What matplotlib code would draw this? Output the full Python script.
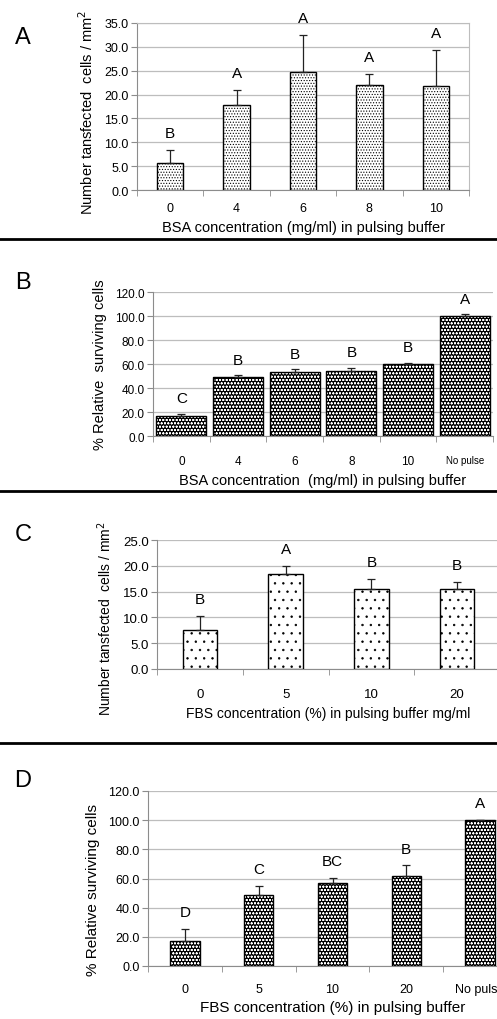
import matplotlib
matplotlib.use("Agg")
import matplotlib.pyplot as plt
import numpy as np

plt.rcParams['font.family'] = ['Liberation Sans', 'DejaVu Sans']
plt.rcParams['hatch.linewidth'] = 0.5

# panel A - BSA, transfected cells
a_cats = ['0', '4', '6', '8', '10']
a_vals = [5.7, 17.9, 24.8, 22.0, 21.9]
a_err = [2.7, 3.1, 7.7, 2.3, 7.5]
a_letters = ['B', 'A', 'A', 'A', 'A']

# panel B - BSA, surviving cells
b_cats = ['0', '4', '6', '8', '10', 'No pulse']
b_vals = [17.0, 49.5, 53.5, 54.5, 60.0, 100.0]
b_err = [1.5, 1.0, 2.0, 2.5, 1.0, 1.5]
b_letters = ['C', 'B', 'B', 'B', 'B', 'A']

# panel C - FBS, transfected cells
c_cats = ['0', '5', '10', '20']
c_vals = [7.6, 18.5, 15.6, 15.6]
c_err = [2.7, 1.5, 1.8, 1.3]
c_letters = ['B', 'A', 'B', 'B']

# panel D - FBS, surviving cells
d_cats = ['0', '5', '10', '20', 'No pulse']
d_vals = [17.0, 48.5, 57.0, 61.5, 100.0]
d_err = [8.5, 6.5, 3.5, 7.5, 0.0]
d_letters = ['D', 'C', 'BC', 'B', 'A']

W, H = 497, 1020
fig = plt.figure(figsize=(W / 100, H / 100), dpi=100)

GRAY = '#8c8c8c'
GRID = '#bdbdbd'
NARROW = ['Liberation Sans Narrow', 'Liberation Sans', 'DejaVu Sans']


def px_axes(l, t, r, b):
    # pixel box -> figure fraction
    return fig.add_axes([l / W, 1 - b / H, (r - l) / W, (b - t) / H])


def panel(ax, cats, vals, err, letters, ymax, ystep, width, style,
          tick_fs, tick_family, xtick_fs, xlabel, xlabel_fs, ylabel,
          ylabel_fs, letter_off, box=False, nopulse_fs=None, xpad=9,
          ylab_y=0.5):
    x = np.arange(len(cats))
    if style == 'dark':
        ax.bar(x, vals, width, color='black', edgecolor='white', hatch='ooooo',
               linewidth=0, zorder=3)
        ax.bar(x, vals, width, fill=False, edgecolor='black', linewidth=1.0,
               zorder=4)
    else:
        ax.bar(x, vals, width, color='white', edgecolor='black', hatch=style,
               linewidth=1.0, zorder=3)
    lower = [0] * len(vals)
    ax.errorbar(x, vals, yerr=[lower, err], fmt='none', ecolor='#222222',
                elinewidth=0.9, capsize=3, capthick=0.9, zorder=5)
    for xi, v, e, lab in zip(x, vals, err, letters):
        ax.annotate(lab, (xi, v + e), xytext=(0, letter_off),
                    textcoords='offset points', ha='center', va='bottom',
                    fontsize=11, zorder=6)
    ax.set_xlim(-0.5, len(cats) - 0.5)
    ax.set_ylim(0, ymax)
    ax.set_yticks(np.arange(0, ymax + ystep / 2, ystep))
    ax.set_yticklabels(['%.1f' % v for v in np.arange(0, ymax + ystep / 2, ystep)],
                       fontsize=tick_fs, family=tick_family)
    ax.set_xticks(x)
    ax.set_xticklabels(cats, fontsize=xtick_fs, family=tick_family)
    if nopulse_fs:
        ax.get_xticklabels()[-1].set_fontsize(nopulse_fs)
    ax.set_xticks(np.arange(-0.5, len(cats), 1.0), minor=True)
    ax.tick_params(axis='x', which='major', length=0, pad=xpad)
    ax.tick_params(axis='x', which='minor', length=4, color=GRAY, direction='out')
    ax.tick_params(axis='y', length=4, color=GRAY, direction='out', pad=2)
    ax.yaxis.grid(True, color=GRID, linewidth=0.9, zorder=0)
    ax.set_axisbelow(True)
    for s in ['left', 'bottom']:
        ax.spines[s].set_color(GRAY)
    for s in ['top', 'right']:
        ax.spines[s].set_visible(box)
        ax.spines[s].set_color(GRID)
    ax.set_xlabel(xlabel, fontsize=xlabel_fs, labelpad=4)
    ax.set_ylabel(ylabel, fontsize=ylabel_fs, labelpad=6)
    ax.yaxis.label.set_y(ylab_y)


axA = px_axes(137, 24, 469, 191)
panel(axA, a_cats, a_vals, a_err, a_letters, 35, 5, 0.4, '......',
      9, NARROW, 9, 'BSA concentration (mg/ml) in pulsing buffer', 10.5,
      'Number tansfected  cells / mm$^2$', 10.5, 7, box=True, xpad=9,
      ylab_y=0.47)

axB = px_axes(153, 293, 493, 437)
panel(axB, b_cats, b_vals, b_err, b_letters, 120, 20, 0.88, 'dark',
      8.5, ['Liberation Sans'], 8.5, 'BSA concentration  (mg/ml) in pulsing buffer', 10.5,
      '% Relative  surviving cells', 10.5, 6, nopulse_fs=7, xpad=14)

axC = px_axes(157, 541, 500, 670)
panel(axC, c_cats, c_vals, c_err, c_letters, 25, 5, 0.4, '..',
      9.5, ['Liberation Sans'], 9.5, 'FBS concentration (%) in pulsing buffer mg/ml', 10,
      'Number tansfected  cells / mm$^2$', 10, 7, xpad=14, ylab_y=0.4)

axD = px_axes(148, 792, 517, 967)
panel(axD, d_cats, d_vals, d_err, d_letters, 120, 20, 0.4, 'dark',
      9, NARROW, 9, 'FBS concentration (%) in pulsing buffer', 11,
      '% Relative surviving cells', 11, 7, xpad=12, ylab_y=0.44)

# panel letters and separators
for lab, yp in [('A', 38), ('B', 283), ('C', 535), ('D', 781)]:
    fig.text(23 / W, 1 - yp / H, lab, fontsize=17, ha='center', va='center')
for yp in [240, 492, 744]:
    fig.add_artist(plt.Line2D([0, 1], [1 - yp / H] * 2, color='black', lw=2,
                              transform=fig.transFigure))

fig.savefig('out.png', dpi=100)
